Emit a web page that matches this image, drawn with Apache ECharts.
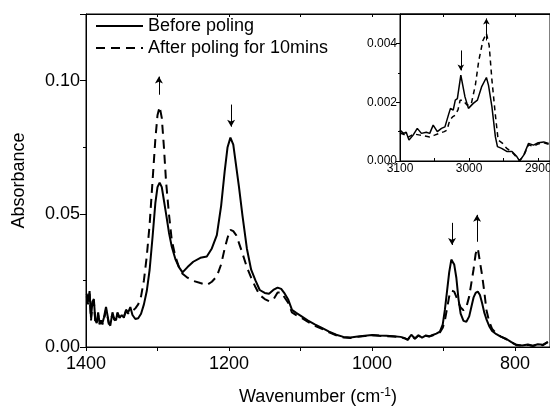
<!DOCTYPE html>
<html>
<head>
<meta charset="utf-8">
<script src="https://cdn.jsdelivr.net/npm/echarts@6/dist/echarts.min.js"></script>
<style>
    html, body { margin: 0; padding: 0; background: #fff; }
    #chart { width: 550px; height: 407px; }
</style>
</head>
<body>
<div id="chart"></div>
<script>
// main spectrum - before poling (solid)
const beforeWn = [1399,1397,1395,1393,1391,1389,1387,1385,1383,1381,1379,1377,1375,1372,1370,1368,1366,1363,1361,1358,1356,1353,1350,1347,1344,1341,1338,1335,1331,1327,1323,1319,1315,1311,1307,1303,1300,1297,1294,1291,1288,1284,1280,1275,1270,1265,1258,1250,1240,1231,1224,1217,1211,1206,1202,1198,1194,1190,1186,1181,1175,1169,1163,1157,1150,1144,1138,1132,1127,1122,1117,1112,1106,1100,1090,1080,1070,1060,1050,1040,1030,1020,1010,1000,990,980,970,960,955,950,945,940,935,930,925,920,915,910,905,901,898,895,892,889,887,885,882,879,876,872,868,864,861,858,855,852,849,846,843,840,836,832,826,820,812,805,798,790,782,775,768,761,754];
const beforeAbs = [0.020,0.017,0.021,0.011,0.017,0.018,0.010,0.009,0.013,0.009,0.010,0.009,0.011,0.015,0.012,0.009,0.008,0.013,0.011,0.010,0.013,0.011,0.012,0.011,0.014,0.013,0.015,0.012,0.0105,0.0108,0.0125,0.016,0.021,0.029,0.041,0.054,0.060,0.0617,0.060,0.055,0.050,0.043,0.0376,0.033,0.030,0.028,0.030,0.032,0.0335,0.034,0.037,0.042,0.053,0.066,0.075,0.0786,0.076,0.068,0.060,0.049,0.037,0.029,0.025,0.0214,0.0203,0.020,0.0214,0.0223,0.0218,0.020,0.0177,0.014,0.0128,0.0118,0.010,0.0085,0.0072,0.0058,0.0046,0.0038,0.0036,0.0039,0.0042,0.0045,0.0043,0.0042,0.0040,0.0038,0.0034,0.0028,0.0046,0.0032,0.0044,0.0035,0.0043,0.0040,0.0045,0.0050,0.0058,0.0085,0.014,0.021,0.028,0.0328,0.0334,0.031,0.026,0.018,0.0125,0.0098,0.0095,0.0115,0.015,0.0185,0.0203,0.0208,0.0195,0.0165,0.013,0.0105,0.0078,0.006,0.0048,0.0039,0.003,0.0018,0.0008,0.0006,0.0009,0.0005,0.0010,0.0008,0.0019];

// main spectrum - after poling (dashed)
const afterWn = [1399,1397,1395,1393,1391,1389,1387,1385,1383,1381,1379,1377,1375,1372,1370,1368,1366,1363,1361,1358,1356,1353,1350,1347,1344,1341,1338,1335,1331,1327,1323,1319,1315,1311,1307,1303,1300,1297,1294,1291,1288,1284,1280,1275,1270,1265,1258,1250,1240,1231,1224,1217,1211,1206,1202,1198,1194,1190,1186,1181,1175,1169,1163,1157,1150,1144,1138,1132,1127,1122,1117,1112,1106,1100,1090,1080,1070,1060,1050,1040,1030,1020,1010,1000,990,980,970,960,955,950,945,940,935,930,925,920,915,910,905,901,898,895,892,889,887,885,882,879,876,872,868,864,861,858,855,852,849,846,843,840,836,832,826,820,812,805,798,790,782,775,768,761,754];
const afterAbs = [0.019,0.016,0.020,0.010,0.016,0.017,0.0095,0.0085,0.012,0.0085,0.0095,0.0085,0.010,0.014,0.0115,0.0085,0.008,0.012,0.0105,0.0095,0.0125,0.011,0.012,0.0115,0.0135,0.0125,0.0135,0.0135,0.0145,0.016,0.019,0.025,0.034,0.046,0.062,0.078,0.087,0.0902,0.086,0.075,0.062,0.050,0.040,0.034,0.030,0.0275,0.026,0.0248,0.024,0.0233,0.0245,0.0265,0.031,0.037,0.041,0.044,0.0435,0.042,0.039,0.035,0.030,0.026,0.0225,0.0195,0.0180,0.0172,0.0178,0.0205,0.0205,0.0185,0.0165,0.013,0.012,0.0112,0.0095,0.0080,0.0068,0.0055,0.0044,0.0036,0.0034,0.0038,0.0041,0.0044,0.0042,0.0041,0.0039,0.0037,0.0033,0.0027,0.0045,0.0031,0.0043,0.0034,0.0042,0.0039,0.0044,0.0048,0.0055,0.0072,0.010,0.0145,0.019,0.0212,0.0214,0.0208,0.0188,0.0168,0.0148,0.0138,0.015,0.019,0.024,0.029,0.035,0.0371,0.032,0.027,0.021,0.014,0.0095,0.0068,0.0050,0.0040,0.0029,0.0017,0.0007,0.0005,0.0008,0.0004,0.0009,0.0007,0.0018];

// inset (C-H region)
const insetBeforeWn = [3100,3095,3091,3087,3081,3075,3069,3062,3057,3052,3046,3040,3035,3030,3027,3023,3020,3017,3012,3006,3001,2994,2988,2982,2975,2972,2967,2962,2959,2953,2945,2938,2931,2927,2921,2914,2907,2900,2892,2885];
const insetBeforeAbs = [0.00105,0.00094,0.00098,0.00071,0.00088,0.00111,0.00094,0.00098,0.00094,0.00122,0.00100,0.00111,0.00116,0.00156,0.00179,0.00173,0.00207,0.00212,0.00292,0.00218,0.00179,0.00196,0.00207,0.00252,0.00284,0.00258,0.00184,0.00082,0.00049,0.00043,0.00032,0.00032,0.00015,0.00000,0.00020,0.00060,0.00054,0.00062,0.00065,0.00060];
const insetAfterWn = [3100,3094,3088,3080,3071,3064,3057,3050,3042,3036,3032,3028,3024,3020,3016,3013,3009,3003,2997,2991,2986,2980,2975,2971,2967,2962,2958,2952,2946,2938,2931,2927,2921,2914,2907,2900,2892,2885];
const insetAfterAbs = [0.00095,0.00090,0.00081,0.00092,0.00088,0.00085,0.00082,0.00088,0.00095,0.00100,0.00105,0.00139,0.00150,0.00156,0.00175,0.00207,0.00207,0.00190,0.00193,0.00258,0.00342,0.00410,0.00434,0.00393,0.00275,0.00156,0.00071,0.00061,0.00044,0.00030,0.00012,0.00002,0.00018,0.00055,0.00050,0.00058,0.00062,0.00057];

// tick marks / labels
const mainXLabels = [800, 1000, 1200, 1400];
const mainXTicks = [800, 900, 1000, 1100, 1200, 1300, 1400];
const insetXLabels = [2900, 3000, 3100];
const insetXTicks = [2900, 2950, 3000, 3050, 3100];

// arrows: [wavenumber, tail, head]
const mainArrows = [[1298, 0.0947, 0.1015], [1197, 0.0910, 0.0827], [888, 0.0466, 0.0383], [853, 0.0395, 0.0496]];
const insetArrows = [[3012, 0.00376, 0.00308], [2975, 0.00410, 0.00485]];

const FONT = 'Liberation Sans, Arial, sans-serif';

function zip(xs, ys) {
    return xs.map((x, i) => [x, ys[i]]);
}

function arrowLines(list) {
    return list.map(a => [{ coord: [a[0], a[1]] }, { coord: [a[0], a[2]] }]);
}

const chart = echarts.init(document.getElementById('chart'));

const option = {
    animation: false,
    backgroundColor: '#fff',
    textStyle: { fontFamily: FONT, color: '#000' },
    legend: {
        orient: 'vertical',
        left: 90,
        top: 12,
        itemWidth: 47,
        itemHeight: 17,
        itemGap: 4,
        itemStyle: { opacity: 0 },
        data: ['Before poling', 'After poling for 10mins'],
        textStyle: { fontSize: 18, color: '#000', fontFamily: FONT }
    },
    grid: [
        { left: 86, top: 14, right: 0, bottom: 60, show: true, borderColor: '#000', borderWidth: 1, outerBoundsMode: 'none' },
        { left: 400, top: 14, right: 0, height: 147, show: true, borderColor: '#000', borderWidth: 1, backgroundColor: '#fff', outerBoundsMode: 'none' }
    ],
    xAxis: [
        {
            type: 'value', gridIndex: 0, min: 751, max: 1400, inverse: true,
            axisLine: { lineStyle: { color: '#000', width: 1 } },
            axisTick: { customValues: mainXTicks, length: 4, lineStyle: { color: '#000' } },
            axisLabel: { customValues: mainXLabels, fontSize: 18, color: '#000', margin: 8, fontFamily: FONT, formatter: v => String(v) },
            splitLine: { show: false },
            name: '{a|Wavenumber (cm}{b|-1}{a|)}',
            nameLocation: 'middle',
            nameGap: 40,
            nameTextStyle: {
                rich: {
                    a: { fontSize: 18, color: '#000', fontFamily: FONT },
                    b: { fontSize: 12, color: '#000', fontFamily: FONT, padding: [0, 0, 9, 0] }
                }
            }
        },
        {
            type: 'value', gridIndex: 0, position: 'top', min: 751, max: 1400, inverse: true,
            axisLine: { lineStyle: { color: '#000' } },
            axisTick: { customValues: mainXTicks, inside: true, length: 3, lineStyle: { color: '#000' } },
            axisLabel: { show: false },
            splitLine: { show: false }
        },
        {
            type: 'value', gridIndex: 1, min: 2883, max: 3100, inverse: true,
            axisLine: { lineStyle: { color: '#000' } },
            axisTick: { customValues: insetXTicks, inside: true, length: 3, lineStyle: { color: '#000' } },
            axisLabel: { customValues: insetXLabels, fontSize: 12, color: '#000', margin: 2, fontFamily: FONT, formatter: v => String(v) },
            splitLine: { show: false }
        }
    ],
    yAxis: [
        {
            type: 'value', gridIndex: 0, min: 0, max: 0.125, interval: 0.05,
            axisLine: { show: true, lineStyle: { color: '#000' } },
            axisTick: { length: 6, lineStyle: { color: '#000' } },
            minorTick: { show: true, splitNumber: 2, length: 3, lineStyle: { color: '#000' } },
            axisLabel: { fontSize: 18, color: '#000', margin: 6, fontFamily: FONT, showMaxLabel: false, formatter: v => v.toFixed(2) },
            splitLine: { show: false },
            name: 'Absorbance',
            nameLocation: 'middle',
            nameGap: 58,
            nameTextStyle: { fontSize: 18, color: '#000', fontFamily: FONT }
        },
        {
            type: 'value', gridIndex: 1, min: 0, max: 0.005, interval: 0.002,
            axisLine: { show: true, lineStyle: { color: '#000' } },
            axisTick: { length: 4, lineStyle: { color: '#000' } },
            minorTick: { show: true, splitNumber: 2, length: 2, lineStyle: { color: '#000' } },
            axisLabel: { fontSize: 12, color: '#000', margin: 3, fontFamily: FONT, showMaxLabel: false, formatter: v => v.toFixed(3) },
            splitLine: { show: false }
        }
    ],
    series: [
        {
            name: 'Before poling', type: 'line', xAxisIndex: 0, yAxisIndex: 0,
            data: zip(beforeWn, beforeAbs),
            symbol: 'none',
            lineStyle: { color: '#000', width: 2 },
            itemStyle: { color: '#000' },
            markLine: {
                silent: true, symbol: ['none', 'arrow'], symbolSize: [6, 7],
                label: { show: false },
                lineStyle: { color: '#000', width: 1, type: 'solid' },
                data: arrowLines(mainArrows)
            }
        },
        {
            name: 'After poling for 10mins', type: 'line', xAxisIndex: 0, yAxisIndex: 0,
            data: zip(afterWn, afterAbs),
            symbol: 'none',
            lineStyle: { color: '#000', width: 2, type: [9, 6] },
            itemStyle: { color: '#000' }
        },
        {
            name: 'Before poling', type: 'line', xAxisIndex: 2, yAxisIndex: 1,
            data: zip(insetBeforeWn, insetBeforeAbs),
            symbol: 'none',
            lineStyle: { color: '#000', width: 1.5 },
            itemStyle: { color: '#000' },
            markLine: {
                silent: true, symbol: ['none', 'arrow'], symbolSize: [5, 6],
                label: { show: false },
                lineStyle: { color: '#000', width: 1, type: 'solid' },
                data: arrowLines(insetArrows)
            }
        },
        {
            name: 'After poling for 10mins', type: 'line', xAxisIndex: 2, yAxisIndex: 1,
            data: zip(insetAfterWn, insetAfterAbs),
            symbol: 'none',
            lineStyle: { color: '#000', width: 1.5, type: [5, 4] },
            itemStyle: { color: '#000' }
        }
    ]
};

chart.setOption(option);
</script>
</body>
</html>
